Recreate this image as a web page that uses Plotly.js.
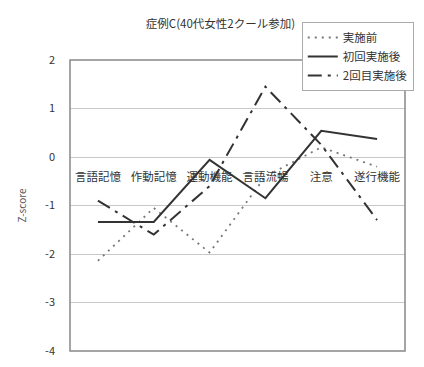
<!DOCTYPE html>
<html><head><meta charset="utf-8">
<script src="https://cdn.plot.ly/plotly-3.0.1.min.js"></script>
<style>body{margin:0;background:#fff}#c{width:424px;height:367px}</style>
</head><body><div id="c"></div>
<script>
const categories = ["言語記憶","作動記憶","運動機能","言語流暢","注意","遂行機能"];
const before = [-2.14, -1.05, -1.97, -0.4, 0.2, -0.2];
const after1 = [-1.34, -1.34, -0.06, -0.85, 0.54, 0.37];
const after2 = [-0.9, -1.6, -0.6, 1.45, 0.25, -1.3];
const seriesNames = ["実施前","初回実施後","2回目実施後"];
const yTicks = [2,1,0,-1,-2,-3,-4];

const font = "Noto Sans CJK JP, sans-serif";
const traces = [
  {x: categories, y: before, name: seriesNames[0], type: "scatter", mode: "lines",
   line: {color: "#777", width: 1.8, dash: "2px,5px"}},
  {x: categories, y: after1, name: seriesNames[1], type: "scatter", mode: "lines",
   line: {color: "#333", width: 2}},
  {x: categories, y: after2, name: seriesNames[2], type: "scatter", mode: "lines",
   line: {color: "#333", width: 2, dash: "14px,6px,3px,6px"}}
];
const yDom = [0, 1];
const layout = {
  width: 424, height: 367,
  margin: {l: 70, r: 10, t: 60, b: 16},
  paper_bgcolor: "#fff", plot_bgcolor: "#fff",
  font: {family: font, size: 10, color: "#333"},
  title: {text: "症例C(40代女性2クール参加)", x: 0.52, xanchor: "center", xref: "container",
          y: 1 - 24/367, yanchor: "middle", yref: "container", font: {size: 11.5, color: "#333"}},
  xaxis: {type: "category", anchor: "free", position: yDom[0] + (0 - (-4)) / 6 * (yDom[1] - yDom[0]),
          showline: false, showgrid: false, zeroline: false, ticks: "", ticklabelstandoff: 11,
          range: [-0.5, 5.5], tickfont: {size: 11.5, color: "#333"}},
  yaxis: {range: [-4, 2], tickvals: yTicks, ticktext: yTicks.map(v => v < 0 ? "-" + Math.abs(v) : String(v)),
          showgrid: true, gridcolor: "#c8c8c8", gridwidth: 1, zeroline: false, ticks: "",
          ticklabelstandoff: 14, tickfont: {size: 11, color: "#333"}, domain: yDom,
          title: {text: "Z-score", font: {size: 10, color: "#555"}, standoff: 16}},
  shapes: [{type: "rect", xref: "x domain", yref: "y domain", x0: 0, x1: 1, y0: 0, y1: 1,
            line: {color: "#888", width: 1.5}}],
  legend: {x: (308-70)/344, xanchor: "left", y: 1 + (60-22)/291, yanchor: "top",
           bgcolor: "#fff", bordercolor: "#aaa", borderwidth: 1,
           font: {size: 11.5, color: "#333"}, tracegroupgap: 0, itemwidth: 30},
  showlegend: true
};
Plotly.newPlot("c", traces, layout, {staticPlot: true});
</script></body></html>
